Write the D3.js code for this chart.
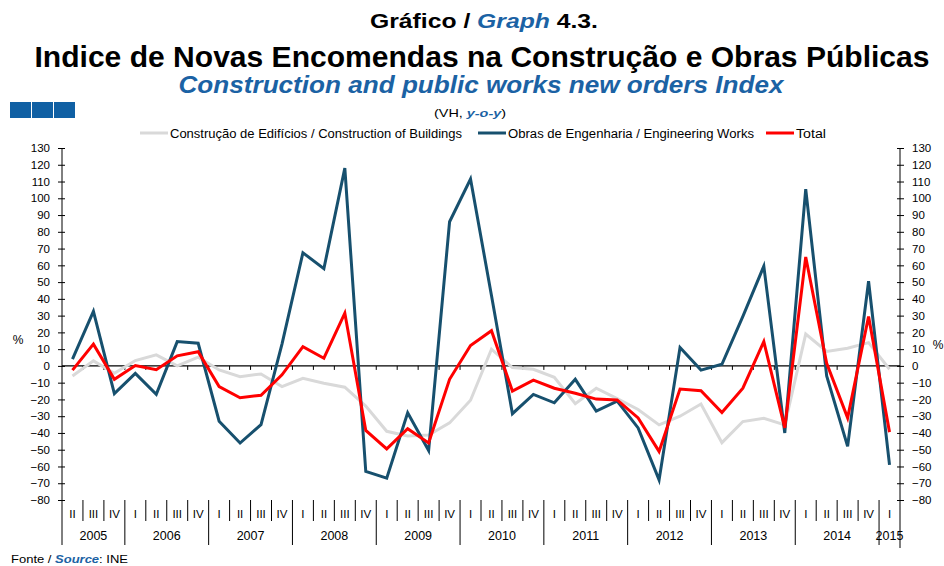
<!DOCTYPE html>
<html>
<head>
<meta charset="utf-8">
<script src="https://cdn.jsdelivr.net/npm/d3@7"></script>
<style>
  body { margin: 0; background: #fff; }
  svg { font-family: "Liberation Sans", Arial, sans-serif; display: block; }
  .tick text { font-size: 11.5px; fill: #000; }
</style>
</head>
<body>
<svg id="chart" width="944" height="566"></svg>
<script>
const quarters = ["II","III","IV",
  "I","II","III","IV", "I","II","III","IV", "I","II","III","IV", "I","II","III","IV",
  "I","II","III","IV", "I","II","III","IV", "I","II","III","IV", "I","II","III","IV",
  "I","II","III","IV", "I"];
const years = ["2005","2006","2007","2008","2009","2010","2011","2012","2013","2014","2015"];
const quartersPerYear = [3,4,4,4,4,4,4,4,4,4,1];

const buildings = [-6, 3, -4.4, 3.2, 6.6, 0, 5.2, -2.4, -6.4, -4.8, -12.3, -7.4, -10.3, -12.7,
  -24, -39, -41.8, -41.2, -34, -20.5, 10, -1, -2, -6.8, -22.5, -13.3, -19.5, -26, -35.2, -30,
  -22.7, -45.8, -33.2, -31.2, -35.2, 19, 8.6, 10.5, 13.9, -2];
const engineering = [4, 32.5, -16.5, -4.5, -17, 14.5, 13.5, -33, -46, -35, 13, 67.5, 58, 118,
  -63, -67, -28, -50.5, 86, 111.5, 42, -28.5, -17, -22, -8, -27, -21, -37, -68, 11, -2.5, 1,
  29.5, 59.5, -40, 105.5, -6, -48, 50.5, -59];
const total = [-2.5, 13, -8, 0.2, -2.3, 6, 8.5, -12.3, -19, -17.5, -5.3, 11.5, 4.6, 31.5,
  -38.5, -49.5, -37.5, -46, -8, 12.2, 21, -15, -8.5, -13.3, -16.3, -19.8, -20.3, -31, -51,
  -13.8, -14.8, -27.8, -13.3, 14.5, -37, 65, 1.6, -31, 29.5, -39.5];

const series = [
  { name: "Construção de Edifícios / Construction of Buildings", values: buildings, color: "#d9d9d9" },
  { name: "Obras de Engenharia / Engineering Works", values: engineering, color: "#17506e" },
  { name: "Total", values: total, color: "#ff0000" },
];

const blue = "#1b62a4";
const svg = d3.select("#chart");
const plotLeft = 62, plotRight = 900, plotTop = 148, plotBottom = 500;

const x = d3.scaleBand().domain(d3.range(quarters.length)).range([plotLeft, plotRight]);
const y = d3.scaleLinear().domain([-80, 130]).range([plotBottom, plotTop]);

// titles
const t1 = svg.append("text").attr("x", 484).attr("y", 28).attr("text-anchor", "middle")
  .attr("font-size", 21).attr("font-weight", "bold")
  .attr("textLength", 228).attr("lengthAdjust", "spacingAndGlyphs");
t1.append("tspan").text("Gráfico / ");
t1.append("tspan").text("Graph").attr("fill", blue).attr("font-style", "italic");
t1.append("tspan").text(" 4.3.");

svg.append("text").attr("x", 482).attr("y", 67).attr("text-anchor", "middle")
  .attr("font-size", 29).attr("font-weight", "bold")
  .attr("textLength", 895).attr("lengthAdjust", "spacingAndGlyphs")
  .text("Indice de Novas Encomendas na Construção e Obras Públicas");

svg.append("text").attr("x", 481).attr("y", 93).attr("text-anchor", "middle")
  .attr("font-size", 23).attr("font-weight", "bold").attr("font-style", "italic")
  .attr("fill", blue).attr("textLength", 605).attr("lengthAdjust", "spacingAndGlyphs")
  .text("Construction and public works new orders Index");

[0, 1, 2].forEach(i => {
  svg.append("rect").attr("x", 10 + i * 22).attr("y", 102).attr("width", 21).attr("height", 16)
    .attr("fill", "#1060a4");
});

const sub = svg.append("text").attr("x", 470).attr("y", 117).attr("text-anchor", "middle")
  .attr("font-size", 11).attr("textLength", 72).attr("lengthAdjust", "spacingAndGlyphs");
sub.append("tspan").text("(VH, ");
sub.append("tspan").text("y-o-y").attr("fill", blue).attr("font-style", "italic").attr("font-weight", "bold");
sub.append("tspan").text(")");

// legend
const legendX = [140, 478, 766];
const legendW = [292, 246, 30];
series.forEach((s, i) => {
  const g = svg.append("g").attr("transform", `translate(${legendX[i]},133)`);
  g.append("line").attr("x1", 0).attr("x2", 28).attr("y1", 0).attr("y2", 0)
    .attr("stroke", s.color).attr("stroke-width", 3);
  g.append("text").attr("x", 30).attr("y", 4.5).attr("font-size", 12)
    .attr("textLength", legendW[i]).attr("lengthAdjust", "spacingAndGlyphs").text(s.name);
});

// y axes
const ticks = d3.range(-80, 131, 10);
const yl = svg.append("g").attr("transform", `translate(${plotLeft},0)`)
  .call(d3.axisLeft(y).tickValues(ticks).tickSize(4).tickPadding(8));
yl.selectAll(".tick").append("line").attr("x2", 3).attr("stroke", "#000");
const yr = svg.append("g").attr("transform", `translate(${plotRight},0)`)
  .call(d3.axisRight(y).tickValues(ticks).tickSize(4).tickPadding(8));
yr.selectAll(".tick").append("line").attr("x2", -3).attr("stroke", "#000");
[yl, yr].forEach(a => a.select(".domain").remove());
svg.append("line").attr("x1", plotLeft).attr("x2", plotLeft).attr("y1", plotTop).attr("y2", 545).attr("stroke", "#000");
svg.append("line").attr("x1", plotRight).attr("x2", plotRight).attr("y1", plotTop).attr("y2", 548).attr("stroke", "#000");

svg.append("text").attr("x", 18).attr("y", 344).attr("text-anchor", "middle").attr("font-size", 12).text("%");
svg.append("text").attr("x", 938).attr("y", 349).attr("text-anchor", "middle").attr("font-size", 12).text("%");

// zero line with boundary ticks
svg.append("line").attr("x1", plotLeft).attr("x2", plotRight).attr("y1", y(0)).attr("y2", y(0))
  .attr("stroke", "#000").attr("stroke-width", 1.2);
svg.selectAll(".zt").data(d3.range(1, quarters.length)).join("line")
  .attr("x1", d => x(d)).attr("x2", d => x(d))
  .attr("y1", y(0)).attr("y2", y(0) + 4).attr("stroke", "#000");

// quarter labels and separators
svg.append("g").attr("transform", `translate(0,${plotBottom})`)
  .call(d3.axisBottom(x).tickSize(0).tickPadding(10).tickFormat(i => quarters[i]))
  .call(g => g.select(".domain").remove())
  .selectAll("text").attr("font-size", 10);

const yearStart = [0];
quartersPerYear.forEach((n, i) => yearStart.push(yearStart[i] + n));
const yearBounds = new Set(yearStart.slice(1, -1));
svg.selectAll(".qs").data(d3.range(1, quarters.length)).join("line")
  .attr("x1", d => x(d)).attr("x2", d => x(d))
  .attr("y1", plotBottom).attr("y2", d => yearBounds.has(d) ? 545 : 521)
  .attr("stroke", "#000");

svg.selectAll(".yr-label").data(years).join("text")
  .attr("x", (d, i) => {
    const a = x(yearStart[i]);
    const b = x(yearStart[i + 1] - 1) + x.bandwidth();
    return (a + b) / 2;
  })
  .attr("y", 540).attr("text-anchor", "middle").attr("font-size", 12.5).text(d => d);

// series lines
const line = d3.line().x((d, i) => x(i) + x.bandwidth() / 2).y(d => y(d));
series.forEach(s => {
  svg.append("path").datum(s.values).attr("d", line).attr("fill", "none")
    .attr("stroke", s.color).attr("stroke-width", 3).attr("stroke-linejoin", "miter");
});

// source
const src = svg.append("text").attr("x", 11).attr("y", 563).attr("font-size", 11)
  .attr("textLength", 117).attr("lengthAdjust", "spacingAndGlyphs");
src.append("tspan").text("Fonte / ");
src.append("tspan").text("Source").attr("fill", blue).attr("font-style", "italic").attr("font-weight", "bold");
src.append("tspan").text(": INE");
</script>
</body>
</html>
